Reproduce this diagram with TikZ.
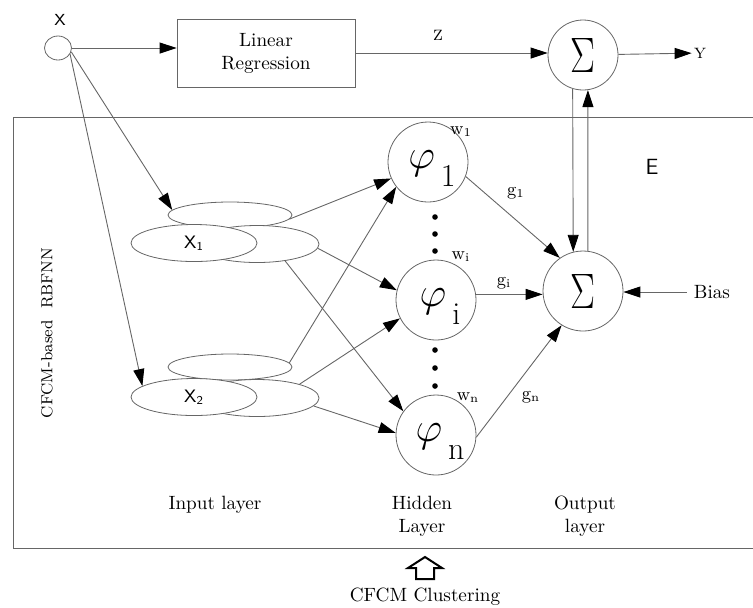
\documentclass[tikz,border=0pt]{standalone}
\usetikzlibrary{arrows.meta,shapes.geometric}
\newcommand{\phitext}[1]{\hspace*{4pt}\raisebox{-3pt}[0pt][0pt]{\fontsize{21}{21}\selectfont$\varphi$\hspace{3pt}\raisebox{-9pt}{\fontsize{16}{16}\selectfont #1}}}
\newcommand{\sigtext}{\scalebox{0.75}[1]{\fontsize{29.86}{30}\selectfont$\Sigma$}}
\begin{document}
\begin{tikzpicture}[x=0.5pt, y=-0.5pt,
  line/.style={draw=black!60, line width=0.45pt},
  arr/.style={line, -{Triangle[length=8.5pt, width=5.5pt, color=black]}},
  neuron/.style={circle, draw=black!60, minimum size=40pt, inner sep=0pt},
  blob/.style={ellipse, draw=black!60, fill=white, inner sep=0pt},
  txt/.style={font=\fontsize{9.6}{11.5}\selectfont, align=center},
  small/.style={font=\fontsize{#1}{#1}\selectfont, inner sep=1pt},
  sflbl/.style={font=\sffamily\fontsize{#1}{#1}\selectfont, inner sep=1pt}]
  \useasboundingbox (0,0) rectangle (753,607);
  % Frame
  \draw[line] (753,117) -- (13,117) -- (13,548) -- (753,548);
  % Top path
  \node (xin) [ellipse, draw=black!60, minimum width=13.5pt, minimum height=12pt, inner sep=0pt] at (58,48) {};
  \node (xlab) [sflbl=8] at (60,20) {X};
  \node (lr) [rectangle, draw=black!60, minimum width=89pt, minimum height=34pt, txt] at (266,53) {Linear\\Regression};
  \node (sigtop) [circle, draw=black!60, minimum size=35pt, inner sep=0pt] at (583,55) {\sigtext};
  \node (zlab) [small=7.5] at (438,35) {Z};
  \node (ylab) [small=7.5] at (700,53) {Y};
  % Input clusters
  \node (in1top) [blob, minimum width=62pt, minimum height=13pt] at (230,215) {};
  \node (in1back) [blob, minimum width=62pt, minimum height=18.5pt] at (257,244) {};
  \node (in1) [blob, minimum width=63pt, minimum height=18.5pt, font=\sffamily\fontsize{9}{9}\selectfont] at (194,243) {X\textsubscript{1}};
  \node (in2top) [blob, minimum width=62pt, minimum height=13pt] at (230,367) {};
  \node (in2back) [blob, minimum width=62pt, minimum height=18.5pt] at (257,398) {};
  \node (in2) [blob, minimum width=63pt, minimum height=18.5pt, font=\sffamily\fontsize{9}{9}\selectfont] at (194,397) {X\textsubscript{2}};
  % Hidden layer
  \node (phi1) [neuron] at (428,162) {\phitext{1}};
  \node (phii) [neuron] at (436,300) {\phitext{i}};
  \node (phin) [neuron] at (436,435) {\phitext{n}};
  \node (w1) [small=9] at (461,132) {w\textsubscript{1}};
  \node (wi) [small=9] at (461,257) {w\textsubscript{i}};
  \node (wn) [small=9] at (468,398) {w\textsubscript{n}};
  \foreach \y in {217,234,251,350,368,386}
    \fill (435,\y) circle (1.4pt);
  % Output
  \node (sigout) [circle, draw=black!60, minimum size=40pt, inner sep=0pt] at (583,291) {\sigtext};
  \node (bias) [txt] at (712,292) {Bias};
  \node (elab) [sflbl=11] at (652,167) {E};
  \node (g1) [small=9] at (516,193) {g\textsubscript{1}};
  \node (gi) [small=9] at (504,283) {g\textsubscript{i}};
  \node (gn) [small=9] at (531,397) {g\textsubscript{n}};
  % Arrows
  \draw[arr] (xin) -- (xin -| lr.west);
  \draw[arr] (lr.east) -- (lr.east -| sigtop.west);
  \draw[arr] (sigtop) -- (ylab);
  \draw[arr] (xin.-16) -- (in1top.175);
  \draw[arr] (xin.-27) -- (in2.168);
  \draw[arr] (in1top.-4) -- (phi1.204);
  \draw[arr] (in1back.-4) -- (phii.166);
  \draw[arr] (in1back.-31) -- (phin.144);
  \draw[arr] (in2top.4) -- (phi1.218);
  \draw[arr] (in2back.18) -- (phii.207);
  \draw[arr] (in2back.-8) -- (phin.177);
  \draw[arr] (phi1.-21) -- (sigout.125);
  \draw[arr] (phii.8) -- (phii.8 -| sigout.west);
  \draw[arr] (phin.-3) -- (sigout.238);
  \draw[arr] (sigtop.253) -- (sigout.104);
  \draw[arr] (sigout.83) -- (sigtop.278);
  \draw[arr] (bias.west) -- (bias.west -| sigout.east);
  % Labels
  \node (inputlab) [txt] at (215,505) {Input layer};
  \node (hiddenlab) [txt] at (422,516) {Hidden\\Layer};
  \node (outputlab) [txt] at (585,516) {Output\\layer};
  \node (rbfnn) [rotate=90, font=\fontsize{8}{8}\selectfont] at (47,333) {CFCM-based\ \ RBFNN};
  \node (cfcm) [txt] at (425,597) {CFCM Clustering};
  \draw[line width=1pt] (408,568) -- (425,557) -- (442,568) -- (434,568) -- (434,579) -- (416,579) -- (416,568) -- cycle;
\end{tikzpicture}
\end{document}
